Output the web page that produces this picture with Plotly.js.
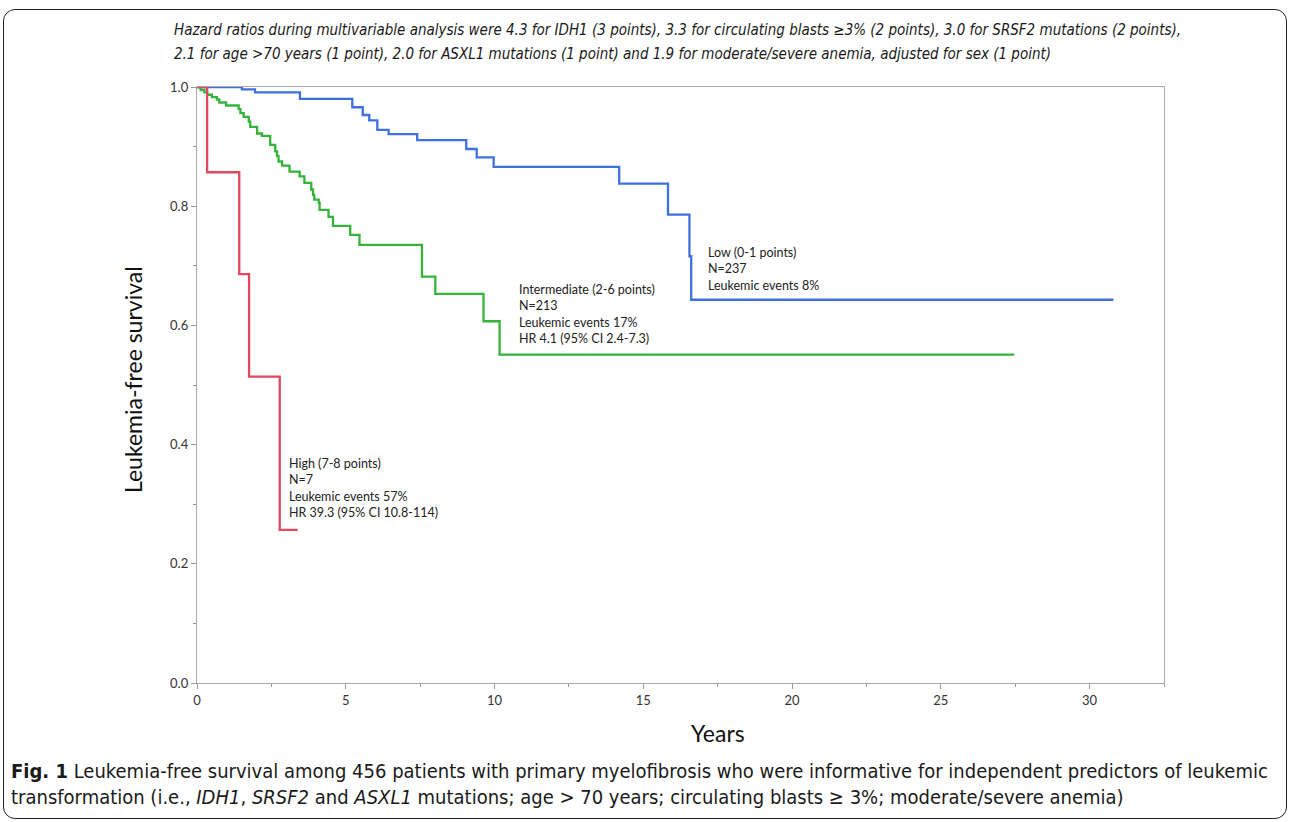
<!DOCTYPE html>
<html>
<head>
<meta charset="utf-8">
<script src="https://cdn.plot.ly/plotly-3.0.1.min.js"></script>
<style>
  html, body { margin: 0; padding: 0; background: #fff; }
  #frame { position: absolute; left: 3px; top: 9px; width: 1282px; height: 808px; border: 1.5px solid #222; border-radius: 12px; z-index: 5; pointer-events: none; }
  #chart { position: absolute; left: 0; top: 0; width: 1290px; height: 822px; z-index: 1; }
</style>
</head>
<body>
<div id="chart"></div>
<div id="frame"></div>
<script>
// Low risk (blue)
const lowYears = [0, 1.51, 1.95, 3.46, 5.22, 5.57, 5.79, 6.06, 6.44, 7.40, 9.05, 9.40, 9.97, 14.19, 15.83, 16.55, 16.61, 30.8];
const lowSurv  = [1.0, 0.996, 0.991, 0.980, 0.966, 0.953, 0.944, 0.928, 0.921, 0.911, 0.896, 0.882, 0.866, 0.838, 0.786, 0.716, 0.643, 0.643];
// Intermediate risk (green)
const intYears = [0, 0.12, 0.25, 0.34, 0.50, 0.67, 0.75, 0.98, 1.40, 1.46, 1.57, 1.74, 1.79, 2.02, 2.18, 2.46, 2.63, 2.69, 2.74, 2.86, 3.11, 3.45, 3.61, 3.84, 3.90, 3.94, 4.09, 4.12, 4.42, 4.57, 5.15, 5.46, 7.56, 8.01, 9.63, 10.17, 27.47];
const intSurv  = [1.0, 0.995, 0.991, 0.987, 0.983, 0.979, 0.974, 0.969, 0.963, 0.956, 0.950, 0.942, 0.933, 0.922, 0.918, 0.903, 0.892, 0.884, 0.875, 0.868, 0.858, 0.850, 0.839, 0.828, 0.819, 0.811, 0.806, 0.794, 0.782, 0.767, 0.752, 0.735, 0.682, 0.653, 0.607, 0.551, 0.551];
// High risk (red)
const highYears = [0, 0.34, 1.42, 1.75, 2.78, 3.38];
const highSurv  = [1.0, 0.857, 0.686, 0.514, 0.257, 0.257];

const xTickVals = [0, 5, 10, 15, 20, 25, 30];
const yTickVals = [0.0, 0.2, 0.4, 0.6, 0.8, 1.0];

const lowLabel  = ['Low (0-1 points)', 'N=237', 'Leukemic events 8%'];
const intLabel  = ['Intermediate (2-6 points)', 'N=213', 'Leukemic events 17%', 'HR 4.1 (95% CI 2.4-7.3)'];
const highLabel = ['High (7-8 points)', 'N=7', 'Leukemic events 57%', 'HR 39.3 (95% CI 10.8-114)'];

const topLines = [
  'Hazard ratios during multivariable analysis were 4.3 for IDH1 (3 points), 3.3 for circulating blasts \u22653% (2 points), 3.0 for SRSF2 mutations (2 points),',
  '2.1 for age >70 years (1 point), 2.0 for ASXL1 mutations (1 point) and 1.9 for moderate/severe anemia, adjusted for sex (1 point)'
];
const captionLines = [
  '<b>Fig. 1</b> Leukemia-free survival among 456 patients with primary myelofibrosis who were informative for independent predictors of leukemic',
  'transformation (i.e., <i>IDH1</i>, <i>SRSF2</i> and <i>ASXL1</i> mutations; age > 70 years; circulating blasts \u2265 3%; moderate/severe anemia)'
];

const LBL_FONT = 'Lato, "Open Sans", sans-serif';
const NARROW_FONT = '"Liberation Sans Narrow", "DejaVu Sans Condensed", Lato, sans-serif';

const traces = [
  {x: lowYears, y: lowSurv, mode: 'lines', line: {shape: 'hv', color: '#4070e0', width: 2.3}, name: 'Low', hoverinfo: 'x+y'},
  {x: intYears, y: intSurv, mode: 'lines', line: {shape: 'hv', color: '#35b33a', width: 2.3}, name: 'Intermediate', hoverinfo: 'x+y'},
  {x: highYears, y: highSurv, mode: 'lines', line: {shape: 'hv', color: '#e2485e', width: 2.3}, name: 'High', hoverinfo: 'x+y'}
];

const annotations = [];
function block(lines, x, y) {
  annotations.push({xref: 'x', yref: 'y', x: x, y: y, xanchor: 'left', yanchor: 'top', align: 'left',
    showarrow: false, text: lines.join('<br>'), font: {family: LBL_FONT, size: 12.5, color: '#222'}});
}
block(lowLabel, 17.12, 0.738);
block(intLabel, 10.74, 0.677);
block(highLabel, 3.02, 0.385);

topLines.forEach((t, i) => annotations.push({xref: 'paper', yref: 'paper', x: -0.026, y: (683 - (30 + 24 * i)) / 596,
  xanchor: 'left', yanchor: 'middle', align: 'left', showarrow: false, text: '<i>' + t + '</i>',
  font: {family: NARROW_FONT, size: 15, color: '#1a1a1a'}}));
captionLines.forEach((t, i) => annotations.push({xref: 'paper', yref: 'paper', x: (9 - 197) / 967, y: (683 - (771 + 26 * i)) / 596,
  xanchor: 'left', yanchor: 'middle', align: 'left', showarrow: false, text: t,
  font: {family: NARROW_FONT, size: 20, color: '#1a1a1a'}}));
annotations.push({xref: 'paper', yref: 'paper', x: (718 - 197) / 967, y: (683 - 733) / 596, xanchor: 'center', yanchor: 'middle',
  showarrow: false, text: 'Years', font: {family: LBL_FONT, size: 23, color: '#111'}});
annotations.push({xref: 'paper', yref: 'paper', x: (133 - 197) / 967, y: (683 - 380) / 596, xanchor: 'center', yanchor: 'middle',
  textangle: -90, showarrow: false, text: 'Leukemia-free survival', font: {family: LBL_FONT, size: 23, color: '#111'}});

const layout = {
  width: 1290, height: 822,
  margin: {l: 197, r: 126, t: 87, b: 139},
  paper_bgcolor: '#fff', plot_bgcolor: '#fff',
  showlegend: false,
  font: {family: LBL_FONT, color: '#333'},
  xaxis: {range: [0, 32.5], tickvals: xTickVals, ticktext: xTickVals.map(String), ticks: 'outside', ticklen: 5, tickcolor: '#999',
    showline: true, linecolor: '#aaa', linewidth: 1.2, mirror: true, showgrid: false, zeroline: false,
    tickfont: {size: 13, color: '#333'},
    minor: {dtick: 2.5, tick0: 0, ticks: 'outside', ticklen: 3, tickcolor: '#999'}},
  yaxis: {range: [0, 1.0], tickvals: yTickVals, ticktext: yTickVals.map(v => v.toFixed(1)), ticks: 'outside', ticklen: 5, tickcolor: '#999',
    showline: true, linecolor: '#aaa', linewidth: 1.2, mirror: true, showgrid: false, zeroline: false,
    tickfont: {size: 13, color: '#333'},
    minor: {dtick: 0.1, tick0: 0, ticks: 'outside', ticklen: 3, tickcolor: '#999'}},
  annotations: annotations
};

Plotly.newPlot('chart', traces, layout, {displayModeBar: false, staticPlot: true});
</script>
</body>
</html>
